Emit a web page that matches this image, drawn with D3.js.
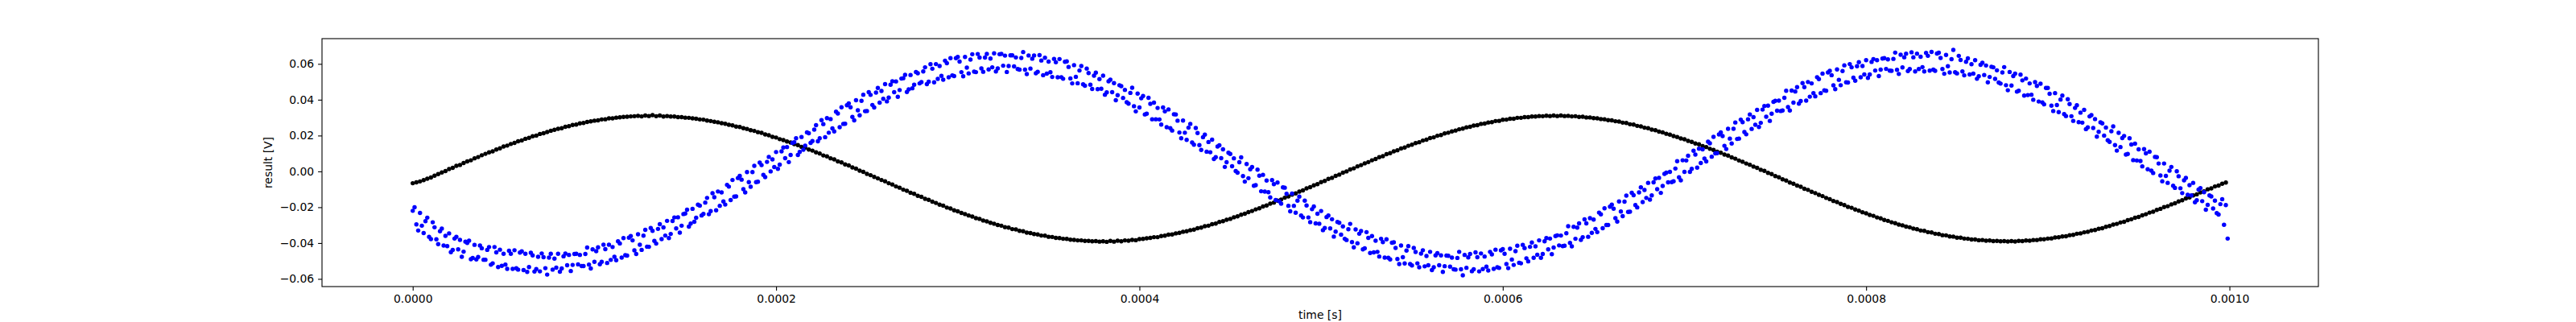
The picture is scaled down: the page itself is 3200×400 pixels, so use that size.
<!DOCTYPE html>
<html>
<head>
<meta charset="utf-8">
<script src="https://cdn.jsdelivr.net/npm/d3@7"></script>
<style>
  body { margin: 0; background: #fff; }
  text { font-family: "DejaVu Sans", sans-serif; }
</style>
</head>
<body>
<svg id="chart" width="3200" height="400"></svg>
<script>
// sampling of the two traces (seconds)
const blueStep = 1e-6;
const blackStep = 2e-6;

// black trace, every 2 us, in units of 0.1 mV
const blackValues = [
  -66,-61,-56,-49,-41, -34,-24,-15,-6,2, 13,20,31,36,47, 56,62,73,80,90,
  98,106,112,122,129, 139,144,153,159,168, 173,182,187,196,200, 209,213,220,227,232,
  238,241,249,252,259, 261,268,270,276,279, 283,285,290,291,296, 296,300,302,304,305,
  307,308,310,307,312, 309,314,308,312,306, 309,306,306,303,303, 300,299,296,294,290,
  289,284,281,277,274, 269,266,260,257,250, 248,241,237,230,226, 219,215,206,202,193,
  189,180,175,167,161, 152,147,137,132,122, 116,106,100,89,84, 73,67,56,50,39,
  33,22,15,4,-3, -14,-21,-31,-39,-48, -55,-66,-73,-84,-91, -102,-108,-119,-125,-136,
  -142,-153,-159,-169,-176, -186,-191,-202,-207,-217, -223,-232,-238,-246,-252, -261,-265,-274,-279,-287,
  -292,-299,-303,-311,-314, -322,-324,-332,-334,-342, -344,-350,-352,-358,-359, -365,-366,-371,-372,-376,
  -377,-381,-382,-385,-385, -388,-388,-390,-389,-392, -390,-393,-388,-392,-387, -390,-385,-387,-382,-384,
  -378,-377,-373,-371,-367, -367,-361,-359,-353,-352, -346,-343,-337,-334,-328, -325,-317,-314,-306,-303,
  -295,-291,-282,-278,-270, -265,-256,-251,-242,-236, -227,-221,-212,-206,-196, -190,-180,-174,-163,-157,
  -147,-140,-130,-123,-113, -106,-95,-88,-78,-71, -60,-53,-42,-36,-25, -18,-7,0,11,17,
  28,35,45,52,62, 69,79,85,96,102, 112,118,128,133,143, 149,158,163,172,177,
  186,190,199,203,212, 216,223,228,235,239, 246,249,256,258,265, 267,273,275,281,282,
  288,289,294,294,299, 299,303,303,306,306, 309,308,311,309,312, 309,312,309,310,307,
  308,304,305,301,301, 297,296,292,291,286, 285,280,278,272,270, 263,261,254,251,244,
  241,233,230,222,218, 210,205,197,192,184, 179,170,165,156,151, 141,136,126,120,110,
  104,94,88,78,71, 61,54,44,37,27, 20,9,3,-8,-15, -26,-33,-44,-51,-62,
  -69,-79,-86,-97,-103, -114,-121,-131,-138,-148, -155,-165,-171,-181,-188, -198,-203,-213,-219,-228,
  -234,-243,-248,-257,-262, -271,-276,-284,-289,-297, -301,-308,-312,-319,-323, -330,-332,-339,-341,-348,
  -350,-356,-357,-363,-364, -370,-370,-375,-376,-380, -380,-384,-383,-387,-386, -389,-388,-390,-389,-391,
  -389,-391,-388,-389,-386, -387,-383,-383,-379,-379, -375,-374,-369,-368,-363, -362,-356,-354,-348,-346,
  -340,-337,-330,-327,-320, -317,-309,-305,-297,-293, -285,-281,-272,-267,-259, -254,-245,-239,-230,-225,
  -215,-209,-199,-194,-184, -178,-168,-161,-151,-145, -134,-128,-117,-111,-100, -95,-84,-79,-69,-62
];

// blue trace, every 1 us, in units of 0.1 mV
const blueValues = [
  -220,-200,-296,-330,-232,-303,-344,-278,-258,-365,
  -378,-284,-312,-379,-406,-334,-319,-414,-360,-417,
  -346,-451,-438,-375,-365,-435,-382,-477,-448,-392,
  -399,-387,-490,-483,-410,-491,-478,-414,-429,-493,
  -493,-438,-422,-521,-513,-422,-452,-534,-437,-527,
  -460,-520,-544,-443,-460,-544,-440,-541,-548,-453,
  -446,-551,-460,-561,-534,-454,-469,-559,-545,-477,
  -558,-458,-479,-540,-576,-481,-460,-548,-487,-537,
  -460,-560,-542,-474,-459,-524,-466,-556,-522,-461,
  -460,-519,-466,-528,-528,-461,-425,-520,-542,-435,
  -505,-445,-424,-518,-505,-409,-434,-511,-409,-494,
  -422,-477,-496,-390,-402,-481,-372,-468,-470,-370,
  -361,-385,-441,-461,-351,-409,-438,-359,-326,-420,
  -421,-316,-332,-388,-403,-321,-295,-378,-313,-358,
  -276,-372,-349,-277,-257,-318,-256,-342,-303,-238,
  -235,-214,-308,-291,-209,-281,-259,-186,-191,-246,
  -237,-174,-148,-239,-222,-122,-144,-217,-112,-192,
  -117,-168,-185,-75,-85,-160,-48,-141,-140,-37,
  -25,-46,-99,-117,-4,-60,-86,-4,31,-60,
  -58,49,35,-19,-32,53,81,0,67,24,
  108,14,38,112,133,74,136,52,92,159,
  163,185,92,109,192,121,144,218,213,159,
  169,233,258,168,185,286,264,191,297,216,
  292,240,223,333,323,247,358,265,266,369,
  380,358,304,285,397,341,313,394,428,336,
  337,442,427,371,357,440,466,384,449,405,
  487,391,412,484,503,442,502,416,454,518,
  520,539,443,458,538,464,484,555,548,491,
  498,558,581,487,501,598,573,497,599,516,
  588,533,512,618,604,525,632,536,532,632,
  639,613,554,531,639,579,547,624,654,557,
  554,655,635,575,556,635,656,569,630,581,
  659,558,575,654,656,590,646,555,588,648,
  648,586,636,571,568,633,666,568,543,647,
  574,629,647,548,556,649,619,537,634,546,
  613,553,527,628,609,525,627,526,517,612,
  614,583,519,491,593,528,492,563,588,486,
  478,574,549,484,460,534,551,459,515,461,
  534,428,441,503,512,442,493,397,425,481,
  476,410,455,386,378,438,467,364,335,434,
  357,408,421,318,322,411,377,291,384,291,
  354,290,261,357,335,247,346,241,228,319,
  318,283,217,185,284,216,176,244,265,161,
  149,242,214,147,120,191,205,110,164,107,
  177,69,79,139,146,74,123,25,51,104,
  97,29,73,2,-7,51,78,-26,-57,41,
  -38,12,24,-80,-77,10,-24,-111,-19,-113,
  -51,-116,-145,-49,-71,-160,-62,-167,-180,-89,
  -91,-125,-192,-223,-124,-192,-231,-163,-141,-246,
  -257,-163,-190,-257,-283,-211,-196,-290,-236,-292,
  -221,-328,-316,-255,-246,-318,-267,-364,-336,-282,
  -287,-353,-307,-376,-383,-323,-293,-395,-424,-324,
  -401,-348,-333,-435,-429,-339,-371,-455,-361,-452,
  -387,-449,-475,-376,-395,-481,-379,-482,-491,-398,
  -396,-427,-489,-517,-414,-479,-514,-442,-417,-517,
  -525,-427,-450,-513,-535,-459,-440,-530,-472,-524,
  -449,-551,-535,-469,-456,-524,-469,-561,-529,-470,
  -471,-532,-481,-546,-548,-483,-449,-546,-580,-466,
  -538,-480,-461,-557,-546,-452,-479,-558,-458,-545,
  -475,-532,-553,-449,-463,-544,-437,-535,-539,-441,
  -434,-460,-517,-540,-432,-492,-522,-445,-415,-510,
  -513,-410,-428,-485,-502,-421,-397,-482,-418,-465,
  -385,-482,-461,-390,-372,-435,-375,-462,-425,-361,
  -357,-413,-358,-417,-415,-345,-306,-399,-418,-309,
  -376,-314,-290,-382,-367,-268,-290,-365,-261,-343,
  -269,-321,-339,-230,-240,-317,-206,-299,-299,-197,
  -186,-208,-261,-280,-168,-224,-250,-169,-135,-226,
  -225,-119,-133,-188,-201,-117,-89,-171,-104,-148,
  -64,-158,-134,-61,-40,-99,-36,-120,-81,-14,
  -7,-61,-3,-60,-55,16,57,-33,-50,62,
  -3,61,87,-3,14,115,94,21,127,47,
  123,72,56,166,157,82,193,101,102,206,
  218,197,143,125,238,183,156,238,273,181,
  183,289,275,220,207,291,318,237,303,260,
  343,248,271,345,365,305,367,282,322,388,
  394,339,395,337,340,411,450,359,340,451,
  384,446,470,378,393,493,470,395,499,417,
  491,437,419,526,515,437,546,452,450,552,
  561,537,480,459,569,511,481,560,592,497,
  496,599,581,523,506,587,610,525,588,541,
  621,522,541,611,627,563,621,532,568,630,
  632,572,625,562,561,628,663,567,544,651,
  580,637,657,560,571,665,637,558,657,571,
  640,582,558,661,645,562,667,568,561,658,
  662,633,571,545,650,587,552,626,678,553,
  547,645,622,558,536,612,631,541,598,546,
  621,517,531,595,606,538,591,497,527,584,
  581,516,564,496,490,552,582,481,453,555,
  479,532,546,445,450,540,508,423,518,426,
  491,428,400,498,477,390,489,385,374,466,
  466,433,367,337,437,370,331,401,423,320,
  309,403,376,308,282,354,369,275,328,272,
  343,236,246,307,314,242,292,194,221,274,
  268,200,245,174,165,224,251,147,116,215,
  136,186,198,94,97,185,150,63,155,61,
  123,58,28,124,101,12,110,4,-9,81,
  79,44,-23,-55,44,-25,-64,4,25,-80,
  -92,1,-27,-94,-121,-50,-36,-131,-77,-134,
  -64,-172,-161,-101,-93,-166,-116,-214,-187,-134,
  -140,-207,-163,-233,-241,-183,-155,-298,-188,-375
];

const xTicks = [0, 0.0002, 0.0004, 0.0006, 0.0008, 0.0010];
const yTicks = [-0.06, -0.04, -0.02, 0.00, 0.02, 0.04, 0.06];
const xLabel = "time [s]";
const yLabel = "result [V]";

const toVolt = 1e-4;
const black = blackValues.map((v, i) => ({ t: i * blackStep, v: v * toVolt }));
const blue = blueValues.map((v, i) => ({ t: i * blueStep, v: v * toVolt }));

const plotLeft = 400, plotRight = 2880, plotTop = 48, plotBottom = 356;
const fontSize = 13.9;
const tickLen = 4.9;
const dotR = 2.7;

// matplotlib style 5% padding around the data
const all = black.concat(blue);
const tExt = d3.extent(all, (d) => d.t);
const vExt = d3.extent(all, (d) => d.v);
const tPad = (tExt[1] - tExt[0]) * 0.05;
const vPad = (vExt[1] - vExt[0]) * 0.05;

const x = d3.scaleLinear().domain([tExt[0] - tPad, tExt[1] + tPad]).range([plotLeft, plotRight]);
const y = d3.scaleLinear().domain([vExt[0] - vPad, vExt[1] + vPad]).range([plotBottom, plotTop]);

const svg = d3.select("#chart");

// Dots (black first, blue on top)
svg.append("g")
  .selectAll("circle")
  .data(black)
  .enter()
  .append("circle")
  .attr("cx", (d) => x(d.t))
  .attr("cy", (d) => y(d.v))
  .attr("r", dotR)
  .style("fill", "#000000");

svg.append("g")
  .selectAll("circle")
  .data(blue)
  .enter()
  .append("circle")
  .attr("cx", (d) => x(d.t))
  .attr("cy", (d) => y(d.v))
  .attr("r", dotR)
  .style("fill", "#0000ff");

// X Axis
const xAxis = svg.append("g")
  .attr("transform", "translate(0," + plotBottom + ")")
  .call(d3.axisBottom(x).tickValues(xTicks).tickFormat(d3.format(".4f")).tickSize(tickLen).tickPadding(tickLen));

// Y Axis
const yAxis = svg.append("g")
  .attr("transform", "translate(" + plotLeft + ",0)")
  .call(d3.axisLeft(y).tickValues(yTicks).tickFormat(d3.format(".2f")).tickSize(tickLen).tickPadding(tickLen));

[xAxis, yAxis].forEach((g) => {
  g.select(".domain").remove();
  g.selectAll("line").attr("stroke", "#000").attr("stroke-width", 1.1);
  g.selectAll("text")
    .attr("fill", "#000")
    .style("font-family", "'DejaVu Sans', sans-serif")
    .style("font-size", fontSize + "px");
});

// frame
svg.append("rect")
  .attr("x", plotLeft)
  .attr("y", plotTop)
  .attr("width", plotRight - plotLeft)
  .attr("height", plotBottom - plotTop)
  .attr("fill", "none")
  .attr("stroke", "#000")
  .attr("stroke-width", 1.1);

// labels
svg.append("text")
  .attr("x", (plotLeft + plotRight) / 2)
  .attr("y", 391)
  .attr("text-anchor", "middle")
  .attr("dominant-baseline", "central")
  .style("font-size", fontSize + "px")
  .text(xLabel);

svg.append("text")
  .attr("transform", "translate(333," + (plotTop + plotBottom) / 2 + ") rotate(-90)")
  .attr("text-anchor", "middle")
  .attr("dominant-baseline", "central")
  .style("font-size", fontSize + "px")
  .text(yLabel);
</script>
</body>
</html>
